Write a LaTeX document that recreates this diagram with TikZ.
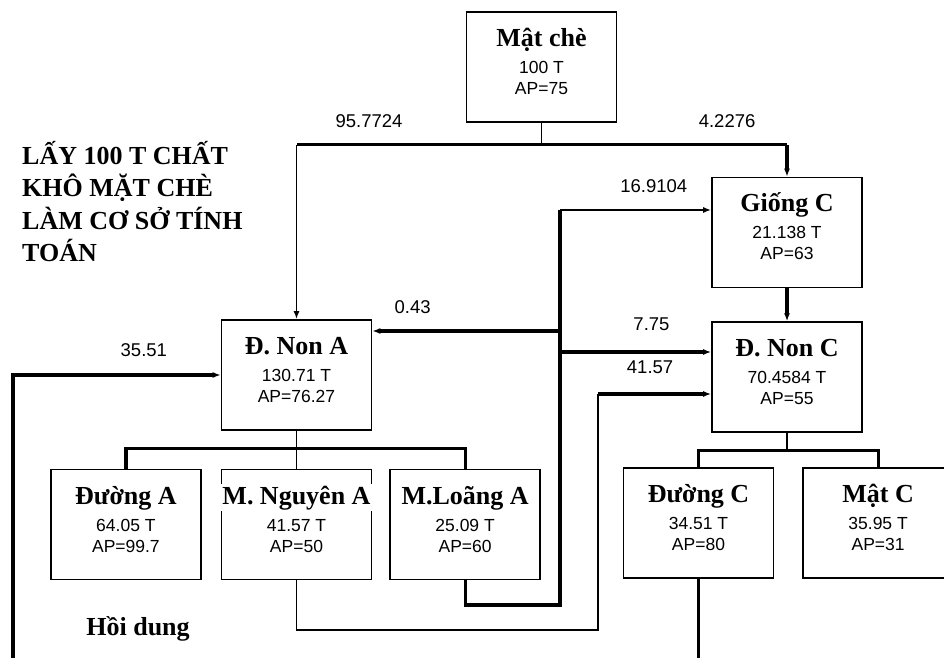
\documentclass[tikz,border=0pt]{standalone}
\usepackage{fontspec}
\usepackage{tikz}
\usetikzlibrary{arrows.meta,positioning}
\newfontfamily\serifbold{Liberation Serif}
\newfontfamily\sansnum{Liberation Sans}
\newcommand\titlefont{\serifbold\bfseries\fontsize{26}{32.5}\selectfont}
\newcommand\massfont{\sansnum\fontsize{17.5}{21}\selectfont}
\newcommand\flowfont{\sansnum\fontsize{18.5}{21}\selectfont}
\newcommand\boxtext[3]{{\titlefont\rule{0pt}{24pt}#1}\\[6pt]#2\\#3\rule[-17pt]{0pt}{17pt}}
\setlength{\fboxsep}{1.5pt}
\tikzset{
  unitbox/.style={draw, line width=1.6pt, minimum width=150pt, minimum height=110pt, inner sep=0pt, align=center, font=\massfont},
  flowlbl/.style={font=\flowfont, inner sep=0pt},
  notetext/.style={font=\titlefont, inner sep=0pt, align=left},
  mainline/.style={line width=3.2pt},
  subline/.style={line width=1.6pt},
  feed/.style={-{Latex[length=8pt,width=6pt]}}
}

\begin{document}
\begin{tikzpicture}[x=1pt, y=1pt, node distance=38pt and 18pt]
  \useasboundingbox (0,0) rectangle (944,658);
  \clip (0,0) rectangle (944,658);
  % process units
  \node[unitbox] (matche) at (541.5,591) {\boxtext{Mật chè}{100 T}{AP=75}};
  \node[unitbox] (gionc) at (787,425.5) {\boxtext{Giống C}{21.138 T}{AP=63}};
  \node[unitbox, below=33pt of gionc] (dnonc) {\boxtext{Đ. Non C}{70.4584 T}{AP=55}};
  \node[unitbox] (dnona) at (296.5,283) {\boxtext{Đ. Non A}{130.71 T}{AP=76.27}};
  \node[unitbox, below=38pt of dnona] (mnga) {\boxtext{\makebox[150pt]{\colorbox{white}{M. Nguyên A}}}{41.57 T}{AP=50}};
  \node[unitbox, left=19pt of mnga] (duonga) {\boxtext{Đường A}{64.05 T}{AP=99.7}};
  \node[unitbox, right=17pt of mnga] (mloa) {\boxtext{M.Loãng A}{25.09 T}{AP=60}};
  \node[unitbox] (duongc) at (698.5,135) {\boxtext{Đường C}{34.51 T}{AP=80}};
  \node[unitbox, right=28pt of duongc] (matc) {\boxtext{Mật C}{35.95 T}{AP=31}};

  % notes
  \node[notetext, anchor=north west] (basis) at (22,517) {LẤY 100 T CHẤT\\KHÔ MẶT CHÈ\\LÀM CƠ SỞ TÍNH\\TOÁN};
  \node[notetext, anchor=base] (hoidung) at (138,23) {Hồi dung};

  % feed split
  \draw[subline] (matche.south) -- ++(0,-22) coordinate (topsplit);
  \draw[mainline] (topsplit) -- node[flowlbl, above=16pt, pos=0.704] (lbla) {95.7724} (dnona.north |- topsplit);
  \draw[mainline] (topsplit) -- node[flowlbl, above=16pt, pos=0.756] (lblc) {4.2276} (gionc.north |- topsplit);
  \draw[subline, feed] (dnona.north |- topsplit) -- (dnona.north);
  \draw[mainline, feed] (gionc.north |- topsplit) -- (gionc.north);
  \draw[mainline, feed] (gionc) -- (dnonc);

  % recycle hub
  \coordinate (hubtop) at (560,448);
  \coordinate (hubbot) at (560,53);
  \coordinate (hubA) at (560,327);
  \coordinate (hubC) at (560,306);
  \draw[mainline] (mloa.south) |- (hubbot) -- (hubtop);
  \draw[subline, feed] (hubtop) -- node[flowlbl, above=17pt, pos=0.62] (lblg) {16.9104} (gionc.west |- hubtop);
  \draw[mainline, feed] (hubA) -- node[flowlbl, above=16pt, pos=0.785] (lblr) {0.43} (dnona.east |- hubA);
  \draw[mainline, feed] (hubC) -- node[flowlbl, above=20pt, pos=0.605] (lbls) {7.75} (dnonc.west |- hubC);

  % bypass
  \coordinate (bypass) at (598,28);
  \coordinate (bypasstop) at (598,264);
  \draw[subline] (mnga.south) |- (bypass) -- (bypasstop);
  \draw[mainline, feed] (bypasstop) -- node[flowlbl, above=19pt, pos=0.46] (lblm) {41.57} (dnonc.west |- bypasstop);

  % product buses
  \draw[subline] (dnona.south) -- ++(0,-18) coordinate (busA);
  \draw[mainline] (duonga.north) |- (busA) -| (mloa.north);
  \draw[subline] (busA) -- (mnga.north);
  \draw[subline] (dnonc.south) -- ++(0,-18) coordinate (busC);
  \draw[mainline] (duongc.north) |- (busC) -| (matc.north);

  % return lines
  \coordinate (retA) at (13,0);
  \draw[mainline] (duongc.south) -- (duongc.south |- retA);
  \draw[mainline, feed] (retA) |- node[flowlbl, above=17pt, pos=0.815] (lbld) {35.51} (dnona.west);
\end{tikzpicture}
\end{document}
